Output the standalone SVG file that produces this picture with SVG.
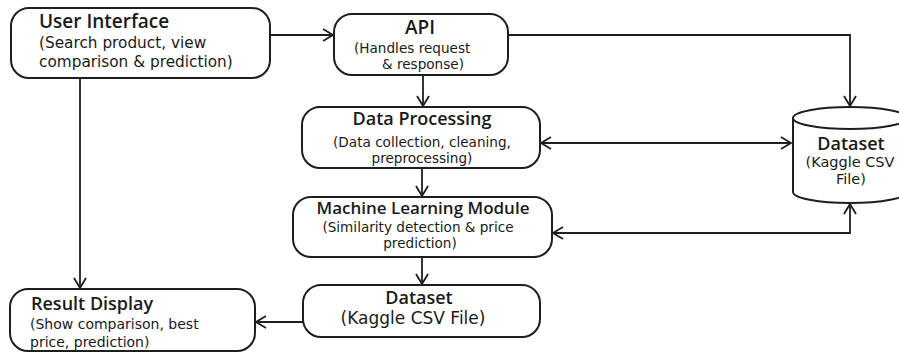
<svg xmlns="http://www.w3.org/2000/svg" width="899" height="353" viewBox="0 0 899 353">
<style>
.box{fill:#fff;stroke:#1e1e1e;stroke-width:2}
.t{font-family:"Open Sans","Noto Sans",sans-serif;font-weight:600;font-size:18px;fill:#1a1a1a}
.s{font-family:"DejaVu Sans","Open Sans",sans-serif;font-size:13.6px;fill:#1a1a1a}
.c{text-anchor:middle}
.ln{fill:none;stroke:#1e1e1e;stroke-width:1.8}
</style>
<defs>
<marker id="ah" markerWidth="14" markerHeight="14" refX="11" refY="7" orient="auto-start-reverse" markerUnits="userSpaceOnUse">
<path d="M1,1 L11,7 L1,13" fill="none" stroke="#1e1e1e" stroke-width="1.8"/>
</marker>
</defs>
<rect width="899" height="353" fill="#fff"/>
<g id="connectors">
<path class="ln" d="M270,35 H333" marker-end="url(#ah)"/>
<path class="ln" d="M508,35 H850 V106" marker-end="url(#ah)"/>
<path class="ln" d="M423,75 V106" marker-end="url(#ah)"/>
<path class="ln" d="M541,143 H791" marker-start="url(#ah)" marker-end="url(#ah)"/>
<path class="ln" d="M422,168 V196" marker-end="url(#ah)"/>
<path class="ln" d="M553,233 H850 V204" marker-start="url(#ah)" marker-end="url(#ah)"/>
<path class="ln" d="M422,257 V284" marker-end="url(#ah)"/>
<path class="ln" d="M303,322 H256" marker-end="url(#ah)"/>
<path class="ln" d="M80,78 V288" marker-end="url(#ah)"/>
</g>
<g id="user-interface">
<rect class="box" x="11" y="8" width="259" height="70" rx="18"/>
<text class="t" x="39" y="28" style="font-size:19px">User Interface</text>
<text class="s" x="39" y="48" style="font-size:15.3px">(Search product, view</text>
<text class="s" x="39" y="67" style="font-size:15.3px">comparison &amp; prediction)</text>
</g>
<g id="api">
<rect class="box" x="334" y="14" width="174" height="61" rx="18"/>
<text class="t c" x="420" y="34" style="font-size:19px">API</text>
<text class="s" x="354" y="53">(Handles request</text>
<text class="s" x="382" y="69">&amp; response)</text>
</g>
<g id="data-processing">
<rect class="box" x="302" y="107" width="238" height="61" rx="18"/>
<text class="t c" x="422" y="125">Data Processing</text>
<text class="s c" x="422" y="147">(Data collection, cleaning,</text>
<text class="s c" x="422" y="163">preprocessing)</text>
</g>
<g id="ml-module">
<rect class="box" x="293" y="197" width="259" height="60" rx="18"/>
<text class="t c" x="423" y="214" style="font-size:17px">Machine Learning Module</text>
<text class="s c" x="418" y="232">(Similarity detection &amp; price</text>
<text class="s c" x="420" y="248">prediction)</text>
</g>
<g id="dataset-box">
<rect class="box" x="303" y="285" width="237" height="52" rx="18"/>
<text class="t c" x="419" y="304">Dataset</text>
<text class="s c" x="413" y="324" style="font-size:17px">(Kaggle CSV File)</text>
</g>
<g id="result-display">
<rect class="box" x="10" y="289" width="245" height="62" rx="18"/>
<text class="t" x="31" y="310">Result Display</text>
<text class="s" x="30" y="329" style="font-size:14px">(Show comparison, best</text>
<text class="s" x="30" y="347" style="font-size:14px">price, prediction)</text>
</g>
<g id="dataset-cylinder">
<path class="box" d="M793,118 V192 A57,11 0 0 0 907,192 V118"/>
<ellipse class="box" cx="850" cy="118" rx="57" ry="11"/>
<text class="t c" x="851" y="150">Dataset</text>
<text class="s c" x="850" y="167" style="font-size:14.5px">(Kaggle CSV</text>
<text class="s c" x="851" y="184" style="font-size:14.5px">File)</text>
</g>
</svg>
